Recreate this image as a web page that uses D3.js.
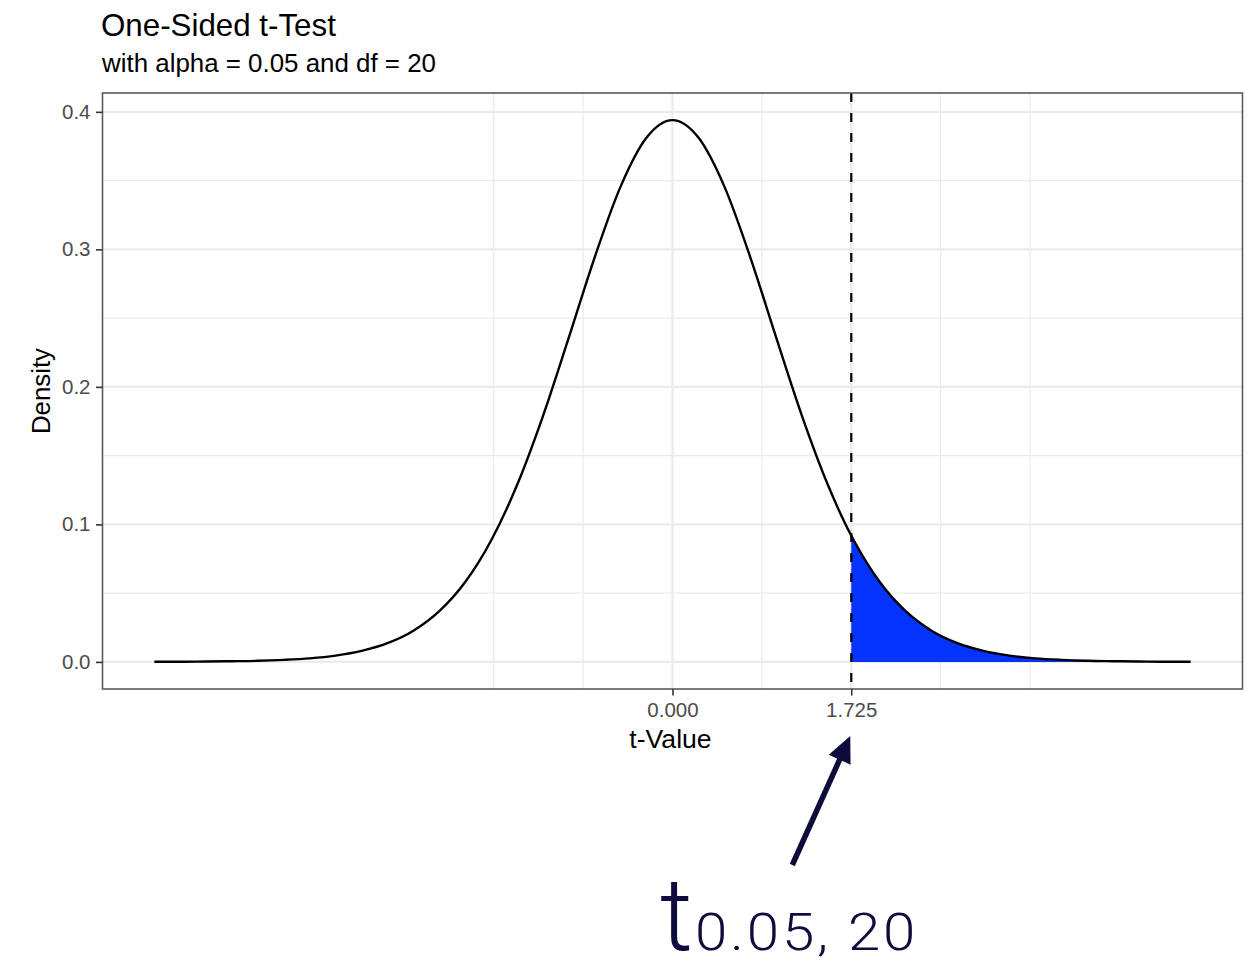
<!DOCTYPE html>
<html>
<head>
<meta charset="utf-8">
<script src="https://cdn.jsdelivr.net/npm/d3@7"></script>
<style>
  html, body { margin: 0; padding: 0; background: #fff; }
  svg { display: block; }
  text { font-family: "Liberation Sans", Arial, Helvetica, sans-serif; }
</style>
</head>
<body>
<svg id="chart" width="1253" height="966"></svg>
<script>
// t-distribution density, df = 20
const tValues = [-5, -4.75, -4.5, -4.25, -4, -3.75, -3.5, -3.25, -3, -2.75, -2.5, -2.25, -2,
  -1.75, -1.5, -1.25, -1, -0.75, -0.5, -0.25, 0, 0.25, 0.5, 0.75, 1, 1.25, 1.5, 1.725, 1.75,
  2, 2.25, 2.5, 2.75, 3, 3.25, 3.5, 3.75, 4, 4.25, 4.5, 4.75, 5];
const density = [0.0001, 0.0001, 0.0003, 0.0005, 0.0008, 0.0015, 0.0026, 0.0046, 0.0080, 0.0136,
  0.0227, 0.0369, 0.0581, 0.0883, 0.1286, 0.1788, 0.2360, 0.2944, 0.3458, 0.3813, 0.3940,
  0.3813, 0.3458, 0.2944, 0.2360, 0.1788, 0.1286, 0.0918, 0.0883, 0.0581, 0.0369, 0.0227,
  0.0136, 0.0080, 0.0046, 0.0026, 0.0015, 0.0008, 0.0005, 0.0003, 0.0001, 0.0001];

// critical value and axis breaks
const tCritical = 1.725;
const xBreaks = [0, tCritical];
const xBreakLabels = ["0.000", "1.725"];
const xMinorBreaks = [-1.725, -0.8625, 0.8625, 2.5875, 3.45];
const yBreaks = [0, 0.1, 0.2, 0.3, 0.4];
const yBreakLabels = ["0.0", "0.1", "0.2", "0.3", "0.4"];
const yMinorBreaks = [0.05, 0.15, 0.25, 0.35];

const titleText = "One-Sided t-Test";
const subtitleText = "with alpha = 0.05 and df = 20";
const xTitle = "t-Value";
const yTitle = "Density";
const critSymbol = "t";
const critSubscript = "0.05, 20";

const svg = d3.select("#chart");
const panel = { left: 102.5, right: 1242.5, top: 93, bottom: 689 };

// 5% expansion on both scales
const xExt = d3.extent(tValues);
const xPad = (xExt[1] - xExt[0]) * 0.05;
const x = d3.scaleLinear().domain([xExt[0] - xPad, xExt[1] + xPad]).range([panel.left, panel.right]);
const yMax = d3.max(density);
const yPad = yMax * 0.05;
const y = d3.scaleLinear().domain([-yPad, yMax + yPad]).range([panel.bottom, panel.top]);

const points = tValues.map((t, i) => ({ t, d: density[i] }));
const tail = points.filter(p => p.t >= tCritical);

const grid = svg.append("g");
// minor grid
grid.selectAll(".vmin").data(xMinorBreaks).join("line")
  .attr("x1", d => x(d)).attr("x2", d => x(d))
  .attr("y1", panel.top).attr("y2", panel.bottom)
  .attr("stroke", "#ebebeb").attr("stroke-width", 1.2);
grid.selectAll(".hmin").data(yMinorBreaks).join("line")
  .attr("x1", panel.left).attr("x2", panel.right)
  .attr("y1", d => y(d)).attr("y2", d => y(d))
  .attr("stroke", "#ebebeb").attr("stroke-width", 1.2);
// major grid
grid.selectAll(".vmaj").data(xBreaks).join("line")
  .attr("x1", d => x(d)).attr("x2", d => x(d))
  .attr("y1", panel.top).attr("y2", panel.bottom)
  .attr("stroke", "#ebebeb").attr("stroke-width", 2.3);
grid.selectAll(".hmaj").data(yBreaks).join("line")
  .attr("x1", panel.left).attr("x2", panel.right)
  .attr("y1", d => y(d)).attr("y2", d => y(d))
  .attr("stroke", "#ebebeb").attr("stroke-width", 2.3);

// shaded rejection region
svg.append("path")
  .datum(tail)
  .attr("d", d3.area().x(p => x(p.t)).y0(y(0)).y1(p => y(p.d)).curve(d3.curveMonotoneX))
  .attr("fill", "#0433ff");

// density curve
svg.append("path")
  .datum(points)
  .attr("d", d3.line().x(p => x(p.t)).y(p => y(p.d)).curve(d3.curveMonotoneX))
  .attr("fill", "none").attr("stroke", "#000").attr("stroke-width", 2.4);

// critical value line
svg.append("line")
  .attr("x1", x(tCritical)).attr("x2", x(tCritical))
  .attr("y1", panel.top).attr("y2", panel.bottom)
  .attr("stroke", "#000").attr("stroke-width", 2.2)
  .attr("stroke-dasharray", "9,11");

// panel border
svg.append("rect")
  .attr("x", panel.left).attr("y", panel.top)
  .attr("width", panel.right - panel.left).attr("height", panel.bottom - panel.top)
  .attr("fill", "none").attr("stroke", "#5a5a5a").attr("stroke-width", 1.6);

// axes
const xAxis = d3.axisBottom(x).tickValues(xBreaks).tickFormat((d, i) => xBreakLabels[i])
  .tickSizeInner(6.5).tickSizeOuter(0).tickPadding(6);
const gx = svg.append("g").attr("transform", `translate(0,${panel.bottom})`).call(xAxis);
const yAxis = d3.axisLeft(y).tickValues(yBreaks).tickFormat((d, i) => yBreakLabels[i])
  .tickSizeInner(6.5).tickSizeOuter(0).tickPadding(5.5);
const gy = svg.append("g").attr("transform", `translate(${panel.left},0)`).call(yAxis);
[gx, gy].forEach(g => {
  g.select(".domain").remove();
  g.selectAll(".tick line").attr("stroke", "#333").attr("stroke-width", 1.6);
  g.selectAll(".tick text")
    .attr("fill", "#4d4d4d")
    .style("font-family", "'Liberation Sans', Arial, sans-serif")
    .style("font-size", "20.5px");
});
gx.selectAll(".tick text").attr("dy", null).attr("y", 28);

// titles
svg.append("text").attr("x", 101).attr("y", 36)
  .style("font-size", "31.3px").attr("fill", "#000").text(titleText);
svg.append("text").attr("x", 102).attr("y", 72)
  .style("font-size", "25.9px").attr("fill", "#000").text(subtitleText);
svg.append("text").attr("x", (panel.left + panel.right) / 2 - 2).attr("y", 748)
  .attr("text-anchor", "middle").style("font-size", "26.6px").attr("fill", "#000").text(xTitle);
svg.append("text")
  .attr("transform", `translate(50,${(panel.top + panel.bottom) / 2}) rotate(-90)`)
  .attr("text-anchor", "middle").style("font-size", "25.8px").attr("fill", "#000").text(yTitle);

// critical value annotation
const navy = "#0e0c3c";
const tipX = x(tCritical) - 1, tipY = 736;
const tailX = tipX - 58, tailY = 865;
const ang = Math.atan2(tipY - tailY, tipX - tailX);
const headLen = 26, headHalf = 12;
const bx = tipX - headLen * Math.cos(ang), by = tipY - headLen * Math.sin(ang);
const px = -Math.sin(ang), py = Math.cos(ang);
svg.append("line")
  .attr("x1", tailX).attr("y1", tailY).attr("x2", bx + 2 * Math.cos(ang)).attr("y2", by + 2 * Math.sin(ang))
  .attr("stroke", navy).attr("stroke-width", 5.5);
svg.append("path")
  .attr("d", `M${tipX},${tipY}L${bx + headHalf * px},${by + headHalf * py}L${bx - headHalf * px},${by - headHalf * py}Z`)
  .attr("fill", navy);

const labelFont = "Roboto, 'Noto Sans', sans-serif";
svg.append("text").attr("x", 660).attr("y", 950)
  .style("font-family", labelFont).style("font-weight", 300).style("font-size", "102px")
  .attr("fill", navy).text(critSymbol);
svg.append("text").attr("transform", "translate(695,950) scale(1.12,1)")
  .style("font-family", labelFont).style("font-weight", 300).style("font-size", "52px")
  .style("letter-spacing", "2.5px")
  .attr("fill", navy).text(critSubscript);
</script>
</body>
</html>
